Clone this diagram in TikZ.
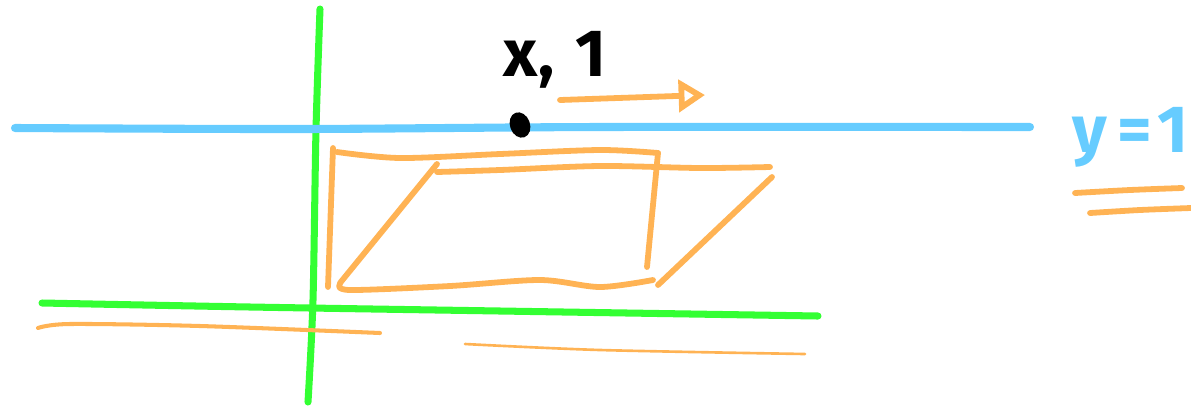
\documentclass[tikz,border=0pt]{standalone}
\usepackage{fontspec}
\setmainfont{Fira Sans}
\usetikzlibrary{arrows.meta}
\definecolor{cAxis}{HTML}{33FF33}
\definecolor{cLevel}{HTML}{66CCFF}
\definecolor{cPen}{HTML}{FFB354}
\definecolor{cInk}{HTML}{000000}
\tikzset{
  axis/.style={draw=cAxis, line width=4pt, line cap=round},
  level/.style={draw=cLevel, line width=4.6pt, line cap=round},
  pen/.style={draw=cPen, line width=3.3pt, line cap=round, line join=round},
  thinpen/.style={draw=cPen, line width=1.5pt, line cap=round},
  hand/.style={font=\fontsize{38}{42}\selectfont\bfseries, inner sep=0pt},
  arr/.style={pen, -{Triangle[open, length=15pt, width=18pt, line width=3.3pt]}}
}

\begin{document}
\begin{tikzpicture}[x=0.02cm, y=-0.02cm]
\useasboundingbox (0,0) rectangle (1191,407);
% axes
\draw[axis] plot[smooth] coordinates {(320,9) (316,130) (313,300) (308,402)};
\draw[axis] plot[smooth] coordinates {(42,303) (250,307) (500,311) (818,316)};
% the line y=1 and its label
\draw[level] plot[smooth] coordinates {(15,128) (300,129) (600,127) (1030,127)};
\node[hand, text=cLevel, anchor=base west] (ylbl) at (1072,152) {y\kern6pt=\kern3pt1};
\draw[pen] plot[smooth] coordinates {(1075,193) (1130,190) (1182,188)};
\draw[pen] plot[smooth] coordinates {(1090,213) (1140,210) (1191,208)};
% the point and its label
\fill[cInk, rotate around={20:(520,125)}] (520,125) ellipse [x radius=10, y radius=13];
\coordinate (pt) at (520,125);
\node[hand, text=cInk, anchor=base west] (ptlbl) at (503,76) {x,\kern12pt1};
\coordinate (arrTail) at (560,100);
\coordinate (arrTip) at (705,95);
\draw[arr] (arrTail) -- (arrTip);
% sketched sheet
\draw[pen] (333,148) -- (328,287);
\draw[pen] plot[smooth] coordinates {(337,152) (400,158) (500,154) (600,150) (658,153)};
\draw[pen] (658,153) -- (647,267);
\draw[pen] (437,164) -- (340,283);
\draw[pen] plot[smooth] coordinates {(437,172) (500,170) (600,166) (700,168) (770,167)};
\draw[pen] plot[smooth] coordinates {(340,284) (350,290) (450,286) (540,280) (600,287) (653,280)};
\draw[pen] (772,177) -- (658,285);
% under the axis
\draw[thinpen, line width=2.3pt] plot[smooth] coordinates {(38,328) (70,324) (200,326) (380,333)};
\draw[thinpen] plot[smooth] coordinates {(465,344) (600,350) (805,354)};
\end{tikzpicture}
\end{document}
